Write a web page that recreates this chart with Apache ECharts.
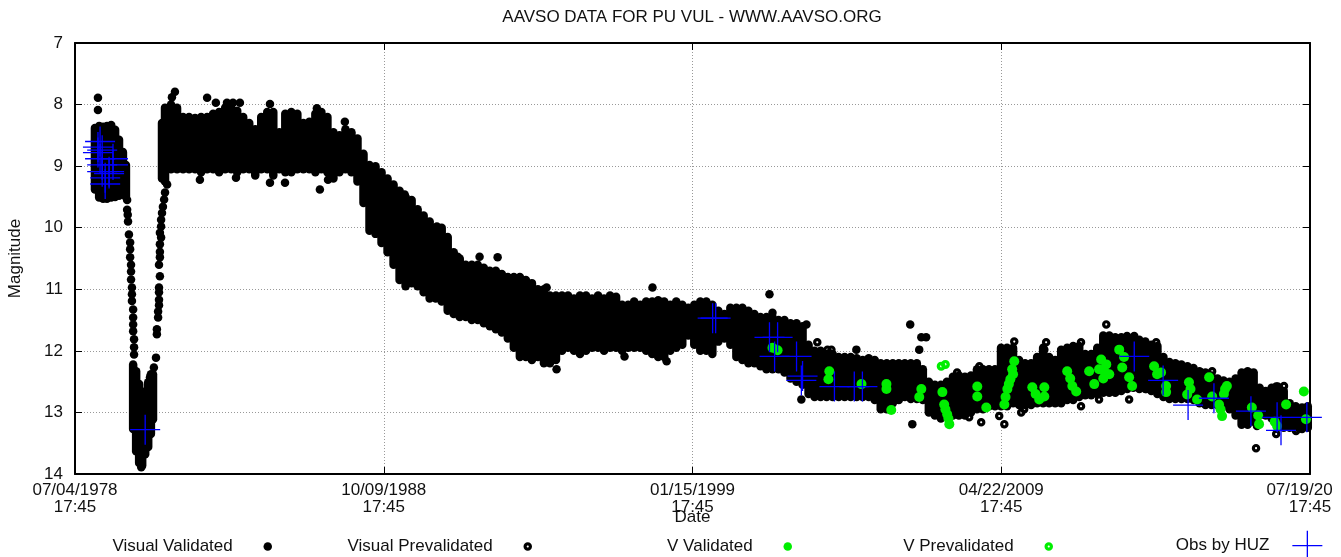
<!DOCTYPE html>
<html>
<head>
<meta charset="utf-8">
<title>AAVSO data for PU Vul</title>
<script src="https://cdn.jsdelivr.net/npm/echarts@6/dist/echarts.min.js"></script>
<style>
  html, body { margin: 0; padding: 0; background: #fff; }
  #chart { width: 1341px; height: 557px; }
</style>
</head>
<body>
<div id="chart"></div>
<script>
// x axis counts days after 07/04/1978 17:45
const tickDays = [0, 3750, 7500, 11250, 15000]
const tickDates = ['07/04/1978', '10/09/1988', '01/15/1999', '04/22/2009', '07/19/20']
const tickTime = '17:45'
const T0 = 1978.5065 // first tick as decimal year

// dense visual estimates: [year, brightest mag, faintest mag] of the observation cloud
const visualValidatedBands = [
  [1979.17, 8.38, 9.38], [1979.31, 8.35, 9.51], [1979.44, 8.36, 9.53], [1979.57, 8.35, 9.53],
  [1979.71, 8.33, 9.51], [1979.84, 8.41, 9.50], [1979.97, 8.57, 9.48], [1980.10, 8.77, 9.45],
  [1980.20, 8.98, 9.50],
  [1980.44, 12.22, 13.27], [1980.54, 12.33, 13.63], [1980.64, 12.54, 13.82], [1980.74, 12.71, 13.86],
  [1980.84, 12.66, 13.68], [1980.94, 12.51, 13.56], [1981.03, 12.38, 13.35], [1981.10, 12.38, 13.11],
  [1981.40, 8.30, 9.20],
  [1981.5, 8.05, 9.25], [1981.7, 8.00, 9.05], [1981.9, 8.05, 9.05], [1982.1, 8.20, 9.05],
  [1982.3, 8.20, 9.05], [1982.5, 8.22, 9.05], [1982.7, 8.20, 9.10], [1982.9, 8.20, 9.05],
  [1983.1, 8.15, 9.05], [1983.3, 8.12, 9.10], [1983.5, 8.05, 9.05], [1983.7, 8.05, 9.05],
  [1983.9, 8.10, 9.10], [1984.1, 8.20, 9.05], [1984.3, 8.30, 9.05], [1984.5, 8.40, 9.15],
  [1984.7, 8.20, 9.05], [1984.9, 8.12, 9.05], [1985.1, 8.12, 9.15], [1985.3, 8.45, 9.05],
  [1985.5, 8.15, 9.10], [1985.7, 8.12, 9.10], [1985.9, 8.15, 9.05], [1986.1, 8.30, 9.05],
  [1986.3, 8.28, 9.05], [1986.5, 8.15, 9.10], [1986.7, 8.12, 9.05], [1986.9, 8.20, 9.10],
  [1987.1, 8.45, 9.20], [1987.3, 8.50, 9.10], [1987.5, 8.40, 9.05], [1987.7, 8.45, 9.10],
  [1987.9, 8.55, 9.25], [1988.1, 8.80, 9.60],
  [1988.3, 8.98, 10.05], [1988.5, 9.00, 10.10], [1988.7, 9.10, 10.25], [1988.9, 9.20, 10.40],
  [1989.1, 9.30, 10.60], [1989.3, 9.40, 10.85], [1989.5, 9.50, 10.95], [1989.7, 9.55, 10.90],
  [1989.9, 9.70, 10.95], [1990.1, 9.80, 11.05], [1990.3, 9.90, 11.15], [1990.5, 10.00, 11.15],
  [1990.7, 10.00, 11.20], [1990.9, 10.15, 11.35], [1991.1, 10.40, 11.40], [1991.3, 10.50, 11.45],
  [1991.5, 10.60, 11.45], [1991.7, 10.60, 11.50], [1991.9, 10.60, 11.50], [1992.1, 10.65, 11.55],
  [1992.3, 10.70, 11.60], [1992.5, 10.70, 11.65], [1992.7, 10.75, 11.70], [1992.9, 10.80, 11.80],
  [1993.1, 10.80, 11.95], [1993.3, 10.80, 12.10], [1993.5, 10.85, 12.10], [1993.7, 10.90, 12.15],
  [1993.9, 11.00, 12.10], [1994.1, 11.00, 12.20], [1994.3, 11.10, 12.20], [1994.5, 11.10, 12.15],
  [1994.7, 11.10, 12.00], [1994.9, 11.10, 11.95], [1995.1, 11.15, 12.00], [1995.3, 11.10, 12.05],
  [1995.5, 11.10, 12.00], [1995.7, 11.15, 11.95], [1995.9, 11.10, 11.95], [1996.1, 11.15, 12.00],
  [1996.3, 11.10, 11.95], [1996.5, 11.12, 11.95], [1996.7, 11.25, 12.00], [1996.9, 11.25, 11.95],
  [1997.1, 11.20, 11.95], [1997.3, 11.25, 11.95], [1997.5, 11.20, 12.00], [1997.7, 11.20, 12.05],
  [1997.9, 11.18, 12.10], [1998.1, 11.20, 12.10], [1998.3, 11.25, 12.00], [1998.5, 11.20, 11.95],
  [1998.7, 11.25, 11.90], [1998.9, 11.30, 11.75], [1999.1, 11.25, 11.90], [1999.3, 11.20, 12.00],
  [1999.5, 11.20, 12.00], [1999.7, 11.25, 12.05], [1999.9, 11.35, 11.85], [2000.1, 11.40, 11.80],
  [2000.3, 11.30, 11.90], [2000.5, 11.30, 12.10], [2000.7, 11.30, 12.15], [2000.9, 11.35, 12.20],
  [2001.1, 11.40, 12.20], [2001.3, 11.45, 12.25], [2001.5, 11.45, 12.30], [2001.7, 11.45, 12.30],
  [2001.9, 11.50, 12.30], [2002.1, 11.50, 12.35], [2002.3, 11.55, 12.45], [2002.5, 11.55, 12.50],
  [2002.7, 11.60, 12.55], [2002.9, 11.90, 12.70], [2003.1, 12.00, 12.75], [2003.3, 12.00, 12.75],
  [2003.5, 12.05, 12.75], [2003.7, 12.05, 12.75], [2003.9, 12.10, 12.75], [2004.1, 12.10, 12.75],
  [2004.3, 12.10, 12.75], [2004.5, 12.12, 12.75], [2004.7, 12.15, 12.75], [2004.9, 12.12, 12.75],
  [2005.1, 12.15, 12.80], [2005.3, 12.20, 12.95], [2005.5, 12.20, 12.95], [2005.7, 12.20, 12.85],
  [2005.9, 12.20, 12.80], [2006.1, 12.20, 12.75], [2006.3, 12.20, 12.78], [2006.5, 12.20, 12.78],
  [2006.7, 12.30, 12.80], [2006.9, 12.50, 13.00], [2007.1, 12.55, 13.05], [2007.3, 12.55, 13.10],
  [2007.5, 12.50, 13.05], [2007.7, 12.42, 13.05], [2007.9, 12.40, 13.05], [2008.1, 12.42, 13.05],
  [2008.3, 12.40, 13.00], [2008.5, 12.30, 12.95], [2008.7, 12.30, 12.95], [2008.9, 12.30, 12.90],
  [2009.1, 12.30, 12.90]
]

// single visual estimates away from the dense cloud
const visualValidatedDots = [
  [1979.27, 7.89], [1979.27, 8.09], [1980.71, 13.89],
  [1980.24, 9.55], [1980.24, 9.71], [1980.26, 9.79], [1980.27, 9.90], [1980.30, 10.11],
  [1980.34, 10.24], [1980.34, 10.35], [1980.34, 10.48], [1980.37, 10.60], [1980.37, 10.71],
  [1980.37, 10.84], [1980.40, 10.97], [1980.40, 11.08], [1980.40, 11.19], [1980.44, 11.33],
  [1980.44, 11.46], [1980.44, 11.57], [1980.44, 11.68], [1980.47, 11.81], [1980.47, 11.94],
  [1980.47, 12.06],
  [1981.00, 12.43], [1981.13, 12.27], [1981.20, 12.11], [1981.23, 11.73], [1981.23, 11.65],
  [1981.27, 11.46], [1981.27, 11.36], [1981.30, 11.26], [1981.30, 11.17], [1981.30, 11.05],
  [1981.30, 10.97], [1981.33, 10.79], [1981.30, 10.60], [1981.33, 10.48], [1981.33, 10.39],
  [1981.33, 10.27], [1981.37, 10.16], [1981.33, 10.08], [1981.37, 9.98], [1981.37, 9.87],
  [1981.40, 9.76], [1981.43, 9.66], [1981.47, 9.54], [1981.50, 9.43], [1981.57, 9.30],
  [1981.73, 7.88], [1981.83, 7.79], [1982.90, 7.89], [1983.19, 7.97], [1983.56, 7.97],
  [1983.76, 7.97], [1983.99, 7.97], [1984.99, 7.99], [1986.55, 8.06], [1987.48, 8.28],
  [1982.66, 9.22], [1983.86, 9.19], [1984.99, 9.27], [1985.49, 9.27], [1986.65, 9.38],
  [1986.92, 9.22],
  [1989.47, 9.46], [1990.14, 9.90], [1990.54, 9.98], [1991.23, 10.47], [1991.96, 10.47],
  [1992.56, 10.48], [1994.19, 10.97], [1994.52, 12.30], [1996.78, 12.09], [1997.71, 10.97],
  [1998.18, 12.17],
  [2001.60, 11.08], [2001.70, 11.38], [2002.83, 11.57], [2002.66, 12.79], [2004.49, 11.98],
  [2006.28, 11.57], [2006.65, 11.78], [2006.81, 11.78], [2006.58, 11.98], [2006.35, 13.19]
]

const visualPrevalidatedBands = [
  [2009.3, 11.95, 12.90], [2009.5, 11.95, 12.90], [2009.7, 11.95, 12.85], [2009.9, 12.15, 12.88],
  [2010.1, 12.20, 12.88], [2010.3, 12.20, 12.88], [2010.5, 12.10, 12.85], [2010.7, 11.95, 12.85],
  [2010.9, 12.10, 12.85], [2011.1, 12.15, 12.85], [2011.3, 12.00, 12.85], [2011.5, 11.95, 12.80],
  [2011.7, 11.92, 12.80], [2011.9, 11.92, 12.75], [2012.1, 12.05, 12.72], [2012.3, 12.05, 12.72],
  [2012.5, 11.95, 12.70], [2012.7, 11.75, 12.68], [2012.9, 11.75, 12.68], [2013.1, 11.78, 12.68],
  [2013.3, 11.78, 12.65], [2013.5, 11.80, 12.62], [2013.7, 11.80, 12.60], [2013.9, 11.82, 12.62],
  [2014.1, 11.85, 12.62], [2014.3, 11.90, 12.65], [2014.5, 11.92, 12.70], [2014.7, 12.10, 12.75],
  [2014.9, 12.18, 12.78], [2015.1, 12.20, 12.78], [2015.3, 12.22, 12.78], [2015.5, 12.25, 12.78],
  [2015.7, 12.28, 12.80], [2015.9, 12.33, 12.85], [2016.1, 12.35, 12.88], [2016.3, 12.40, 12.88],
  [2016.5, 12.45, 12.88], [2016.7, 12.48, 12.90], [2016.9, 12.50, 12.95], [2017.1, 12.45, 13.05],
  [2017.3, 12.35, 13.20], [2017.5, 12.33, 13.20], [2017.7, 12.35, 13.15], [2017.9, 12.60, 13.05],
  [2018.1, 12.65, 13.05], [2018.3, 12.60, 13.10], [2018.5, 12.58, 13.25], [2018.7, 12.65, 13.25],
  [2018.9, 12.85, 13.25], [2019.1, 12.90, 13.25], [2019.3, 12.95, 13.25], [2019.5, 12.90, 13.25]
]

const visualPrevalidatedDots = [
  [2003.19, 11.86], [2003.53, 11.98], [2003.66, 11.98], [2007.81, 12.90], [2007.84, 12.35],
  [2008.24, 13.08], [2008.58, 12.25], [2008.64, 13.16], [2009.24, 13.06], [2009.41, 13.19],
  [2009.74, 11.85], [2009.97, 13.00], [2010.07, 12.95], [2010.74, 11.98], [2010.74, 12.14],
  [2010.80, 11.86], [2011.30, 11.98], [2011.33, 12.00], [2011.96, 11.86], [2011.96, 12.90],
  [2012.56, 12.79], [2012.80, 11.57], [2013.49, 11.76], [2013.56, 12.79], [2013.73, 11.76],
  [2014.13, 12.62], [2014.46, 11.86], [2014.89, 12.57], [2015.12, 12.35], [2015.95, 12.35],
  [2016.32, 12.33], [2016.98, 12.58], [2017.31, 12.41], [2017.61, 12.36], [2017.78, 13.58],
  [2017.81, 13.22], [2018.45, 12.58], [2018.45, 12.79], [2018.45, 13.35], [2018.71, 12.57],
  [2019.11, 13.30], [2019.31, 12.92], [2019.31, 13.27]
]

const vValidated = [
  [2001.70, 11.95], [2001.87, 11.99], [2003.59, 12.33], [2003.56, 12.46], [2004.66, 12.54],
  [2005.49, 12.54], [2005.49, 12.62], [2005.65, 12.96], [2006.65, 12.62], [2006.58, 12.75],
  [2007.35, 12.67], [2007.41, 12.87], [2007.45, 12.95], [2007.51, 13.03], [2007.55, 13.10],
  [2007.58, 13.19], [2008.51, 12.58], [2008.51, 12.74], [2008.81, 12.92], [2009.41, 12.87],
  [2009.45, 12.75], [2009.51, 12.62], [2009.56, 12.54], [2009.61, 12.46], [2009.67, 12.30],
  [2009.70, 12.38], [2009.74, 12.17], [2010.34, 12.59], [2010.45, 12.70], [2010.57, 12.79],
  [2010.74, 12.59], [2010.74, 12.74], [2011.50, 12.33], [2011.60, 12.45], [2011.67, 12.57],
  [2011.80, 12.66], [2012.23, 12.33], [2012.40, 12.54], [2012.63, 12.14], [2012.80, 12.22],
  [2012.56, 12.30], [2012.73, 12.33], [2012.70, 12.45], [2012.90, 12.38], [2013.23, 11.98],
  [2013.33, 12.27], [2013.39, 12.10], [2013.56, 12.43], [2013.66, 12.57], [2014.39, 12.25],
  [2014.49, 12.38], [2014.62, 12.35], [2014.79, 12.57], [2014.79, 12.67], [2015.55, 12.51],
  [2015.49, 12.71], [2015.60, 12.62], [2015.82, 12.79], [2016.22, 12.43], [2016.32, 12.74],
  [2016.55, 12.87], [2016.60, 12.95], [2016.65, 13.06], [2016.71, 12.70], [2016.75, 12.62],
  [2016.81, 12.57], [2017.64, 12.92], [2017.85, 13.05], [2017.88, 13.19], [2018.40, 13.15],
  [2018.48, 13.22], [2018.78, 12.87], [2019.37, 12.66], [2019.44, 13.11]
]

const vPrevalidated = [[2007.31, 12.25], [2007.45, 12.22]]

const huzObs = [
  [1979.34, 8.60], [1979.27, 8.69], [1979.27, 8.78], [1979.41, 8.74], [1979.34, 8.88],
  [1979.77, 8.88], [1979.41, 8.98], [1979.77, 8.98], [1979.41, 9.09], [1979.64, 9.09],
  [1979.51, 9.19], [1979.51, 9.29], [1979.64, 9.12],
  [1980.84, 13.28],
  [1999.71, 11.47], [1999.81, 11.47],
  [2001.60, 11.78], [2001.87, 11.78], [2001.77, 12.09], [2002.50, 12.09], [2002.70, 12.41],
  [2002.66, 12.48], [2003.76, 12.58], [2004.42, 12.58], [2004.69, 12.58],
  [2013.73, 12.09], [2014.69, 12.48], [2015.52, 12.88], [2016.38, 12.77], [2017.61, 12.98],
  [2018.48, 13.08], [2018.61, 13.29], [2019.47, 13.08]
]

const toDays = yr => (yr - T0) * 365.25
const pts = arr => arr.map(d => [toDays(d[0]), d[1]])
const bands = arr => arr.map(d => [toDays(d[0]), d[1], d[2]])

const FONT = 'Liberation Sans, Arial, sans-serif'
const TEXT = '#111'
const FS = 17
// filled disc with a small hole (outer clockwise, inner counter-clockwise)
const RING = 'path://M10,0C15.52,0,20,4.48,20,10C20,15.52,15.52,20,10,20C4.48,20,0,15.52,0,10C0,4.48,4.48,0,10,0Z' +
  'M10,7.6C8.67,7.6,7.6,8.67,7.6,10C7.6,11.33,8.67,12.4,10,12.4C11.33,12.4,12.4,11.33,12.4,10C12.4,8.67,11.33,7.6,10,7.6Z'
const CROSS = 'path://M0,15L30,15M15,0L15,30'
const GREEN = '#00ee00'

const bandItem = color => (params, api) => {
  const x = api.value(0)
  const a = api.coord([x, api.value(1)])
  const b = api.coord([x, api.value(2)])
  return {
    type: 'line',
    shape: { x1: a[0], y1: a[1], x2: b[0], y2: b[1] },
    style: { stroke: color, lineWidth: 8.5, lineCap: 'round' }
  }
}

const gridLine = { show: true, lineStyle: { color: '#999', width: 1, type: [1, 2] } }
const frameLine = { show: true, onZero: false, lineStyle: { color: '#000', width: 2 } }
const innerTick = { show: true, inside: true, length: 7, lineStyle: { color: '#000', width: 1 } }
const labelFont = { fontSize: FS, color: TEXT, fontFamily: FONT }

const legendItems = [
  { name: 'Visual Validated', right: 1069, icon: 'circle', color: '#000' },
  { name: 'Visual Prevalidated', right: 809, icon: RING, color: '#000' },
  { name: 'V Validated', right: 549, icon: 'circle', color: GREEN },
  { name: 'V Prevalidated', right: 288, icon: RING, color: GREEN }
]

const chart = echarts.init(document.getElementById('chart'))

chart.setOption({
  animation: false,
  textStyle: { fontFamily: FONT },
  title: {
    text: 'AAVSO DATA FOR PU VUL - WWW.AAVSO.ORG',
    left: 687, textAlign: 'center', top: 4,
    textStyle: { ...labelFont, fontWeight: 'normal' }
  },
  grid: { left: 75, right: 31, top: 43, bottom: 83, outerBoundsMode: 'none', containLabel: false },
  legend: [
    ...legendItems.map(it => ({
      data: [{ name: it.name, icon: it.icon }],
      right: it.right, top: 538, padding: 0,
      align: 'right', itemWidth: 60, itemHeight: 8.5,
      selectedMode: false,
      itemStyle: { color: it.color, borderWidth: 0 },
      textStyle: labelFont
    })),
    {
      data: [{ name: 'Obs by HUZ', icon: CROSS }],
      right: 18, top: 530, padding: 0,
      align: 'right', itemWidth: 66, itemHeight: 30,
      selectedMode: false,
      itemStyle: { color: 'transparent', borderColor: '#0000ff', borderWidth: 1.3 },
      textStyle: labelFont
    }
  ],
  xAxis: [
    {
      type: 'value', min: 0, max: 15000, interval: 3750, position: 'bottom',
      axisLine: frameLine, axisTick: innerTick, splitLine: gridLine,
      name: 'Date', nameLocation: 'middle', nameGap: 35, nameMoveOverlap: false,
      nameTextStyle: labelFont,
      axisLabel: {
        ...labelFont, margin: 8, lineHeight: 17,
        showMinLabel: true, showMaxLabel: true, hideOverlap: false,
        formatter: v => {
          const i = tickDays.indexOf(v)
          if (i < 0) return ''
          if (i === tickDays.length - 1) return '{cut|' + tickDates[i] + '}\n' + tickTime
          return tickDates[i] + '\n' + tickTime
        },
        rich: { cut: { ...labelFont, lineHeight: 17, padding: [0, 21, 0, 0] } }
      }
    },
    {
      type: 'value', min: 0, max: 15000, interval: 3750, position: 'top',
      axisLine: frameLine, axisTick: innerTick, splitLine: { show: false }, axisLabel: { show: false }
    }
  ],
  yAxis: [
    {
      type: 'value', inverse: true, min: 7, max: 14, interval: 1, position: 'left',
      axisLine: frameLine, axisTick: innerTick, splitLine: gridLine,
      axisLabel: { ...labelFont, margin: 12 },
      name: 'Magnitude', nameLocation: 'middle', nameGap: 51, nameRotate: 90, nameMoveOverlap: false,
      nameTextStyle: labelFont
    },
    {
      type: 'value', inverse: true, min: 7, max: 14, interval: 1, position: 'right',
      axisLine: frameLine, axisTick: innerTick, splitLine: { show: false }, axisLabel: { show: false }
    }
  ],
  series: [
    {
      name: 'Visual Validated', type: 'custom', renderItem: bandItem('#000'),
      itemStyle: { color: '#000' }, encode: { x: 0, y: [1, 2] },
      data: bands(visualValidatedBands), z: 2
    },
    {
      name: 'Visual Validated', type: 'scatter', symbol: 'circle', symbolSize: 8.5,
      itemStyle: { color: '#000', opacity: 1 }, data: pts(visualValidatedDots), z: 2
    },
    {
      name: 'Visual Prevalidated', type: 'custom', renderItem: bandItem('#000'),
      itemStyle: { color: '#000' }, encode: { x: 0, y: [1, 2] },
      data: bands(visualPrevalidatedBands), z: 3
    },
    {
      name: 'Visual Prevalidated', type: 'scatter', symbol: RING, symbolSize: 8.5,
      itemStyle: { color: '#000', opacity: 1 }, data: pts(visualPrevalidatedDots), z: 3
    },
    {
      name: 'V Validated', type: 'scatter', symbol: 'circle', symbolSize: 10,
      itemStyle: { color: GREEN, opacity: 1 }, data: pts(vValidated), z: 4
    },
    {
      name: 'V Prevalidated', type: 'scatter', symbol: RING, symbolSize: 9,
      itemStyle: { color: GREEN, opacity: 1 }, data: pts(vPrevalidated), z: 4
    },
    {
      name: 'Obs by HUZ', type: 'scatter', symbol: CROSS, symbolSize: 30,
      itemStyle: { color: 'transparent', borderColor: '#0000ff', borderWidth: 1.3, opacity: 1 },
      data: pts(huzObs), z: 5
    }
  ]
})
</script>
</body>
</html>
